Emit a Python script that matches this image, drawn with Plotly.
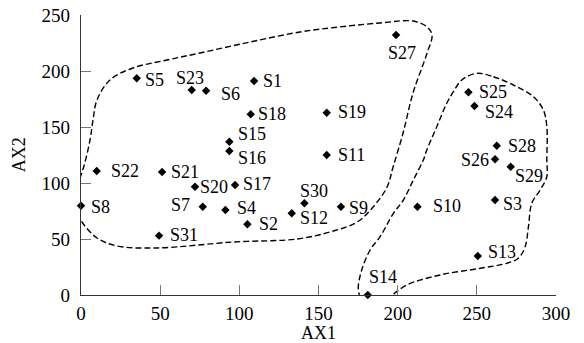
import plotly.graph_objects as go

# ---- data ----
names = ["S1", "S2", "S3", "S4", "S5", "S6", "S7", "S8", "S9", "S10",
         "S11", "S12", "S13", "S14", "S15", "S16", "S17", "S18", "S19", "S20",
         "S21", "S22", "S23", "S24", "S25", "S26", "S27", "S28", "S29", "S30", "S31"]
ax1 = [109.3, 105.1, 261.5, 91.2, 35.2, 79.0, 76.9, 0.0, 164.2, 212.5,
       155.2, 133.1, 250.6, 181.1, 93.7, 93.7, 97.3, 107.2, 155.2, 72.0,
       51.2, 9.9, 69.9, 248.5, 244.7, 261.5, 199.0, 262.6, 271.4, 141.1, 49.3]
ax2 = [191.0, 63.1, 84.8, 75.9, 193.5, 182.4, 78.8, 79.7, 78.8, 78.8,
       125.0, 72.9, 34.8, 0.0, 136.9, 128.6, 98.2, 161.3, 162.8, 96.7,
       109.8, 110.7, 183.0, 168.8, 181.0, 121.2, 232.1, 133.3, 114.5, 81.9, 53.0]

x_ticks = [0, 50, 100, 150, 200, 250, 300]
y_ticks = [0, 50, 100, 150, 200, 250]

# cluster outlines (data units)
cluster1_x = [-5.2, -2.7, 1.5, 5.7, 7.6, 10.1, 18.3, 32.8, 54.3, 75.2, 106.8, 138.3, 157.3,
              188.9, 209.7, 218.6, 221.7, 218.6, 209.7, 203.4, 197.1, 193.3, 184.5, 174.4,
              157.3, 136.5, 96.0, 48.0, 22.7, 10.1, 0.6, -5.2]
cluster1_y = [82.1, 96.4, 113.4, 138.4, 156.3, 174.1, 192.0, 202.7, 209.8, 216.1, 225.9, 234.8, 238.4,
              242.9, 244.6, 239.3, 232.1, 216.1, 180.4, 144.6, 114.3, 96.4, 78.6, 65.2,
              56.3, 50.0, 47.3, 42.0, 43.8, 50.9, 65.2, 82.1]
cluster2_x = [250.0, 260.5, 273.1, 285.7, 292.0, 294.2, 294.2, 294.2, 290.0, 284.7, 282.6, 280.5,
              276.2, 268.9, 252.0, 226.8, 205.7, 195.2, 186.8, 178.3, 175.2, 177.3, 182.6, 188.9,
              197.3, 203.6, 209.9, 216.2, 218.4, 224.7, 231.0, 235.2, 240.5, 250.0]
cluster2_y = [197.9, 194.9, 187.5, 177.1, 165.2, 150.3, 120.5, 105.6, 93.8, 81.9, 61.0, 43.1,
              32.8, 28.3, 23.8, 17.9, 8.9, -1.5, -8.9, -6.0, 4.5, 22.3, 40.2, 52.1,
              72.9, 84.8, 102.7, 120.5, 129.5, 150.3, 171.2, 181.5, 192.0, 197.9]

# ---- label offsets (style, pixels: dx right, dy down) ----
label_offsets = {
    "S1": (18.7, 0), "S2": (21.4, 0), "S3": (17.3, 4.3), "S4": (21.4, -1.7), "S5": (18, 2),
    "S6": (24.5, 3.5), "S7": (-22.7, -1.7), "S8": (19.7, 1), "S9": (17.3, 1), "S10": (29.4, -1),
    "S11": (24.8, 0), "S12": (22.5, 5), "S13": (24, -4.3), "S14": (15.3, -17.7), "S15": (23, -8),
    "S16": (23, 7), "S17": (22, -1), "S18": (21.5, 0), "S19": (25.6, -1), "S20": (19.3, 0.5),
    "S21": (23, 0), "S22": (28, 0), "S23": (-2, -12.5), "S24": (24.7, 6.3), "S25": (24.2, -0.6),
    "S26": (-20, 0.7), "S27": (5.7, 18.3), "S28": (25, 0), "S29": (18, 9.4), "S30": (9.4, -12.6),
    "S31": (24.5, -0.7),
}

FONT = "Liberation Serif"

fig = go.Figure()
for cx, cy in [(cluster1_x, cluster1_y), (cluster2_x, cluster2_y)]:
    fig.add_trace(go.Scatter(
        x=cx, y=cy, mode="lines",
        line=dict(color="black", width=1.4, dash="6px,3px", shape="spline", smoothing=1.0),
        hoverinfo="skip", showlegend=False, cliponaxis=False,
    ))

fig.add_trace(go.Scatter(
    x=ax1, y=ax2, mode="markers", text=names,
    marker=dict(symbol="diamond", size=6.5, color="black", line=dict(width=0)),
    showlegend=False, cliponaxis=False,
))

for n, xv, yv in zip(names, ax1, ax2):
    dx, dy = label_offsets[n]
    fig.add_annotation(x=xv, y=yv, xref="x", yref="y", text=n, showarrow=False,
                       xshift=dx, yshift=-dy, xanchor="center", yanchor="middle",
                       font=dict(family=FONT, size=18, color="black"))

# axis titles (paper coordinates)
fig.add_annotation(x=0.5, y=-0.136, xref="paper", yref="paper", text="AX1", showarrow=False,
                   xanchor="center", yanchor="middle", font=dict(family=FONT, size=18, color="black"))
fig.add_annotation(x=-0.13, y=0.5, xref="paper", yref="paper", text="AX2", showarrow=False,
                   textangle=-90, xanchor="center", yanchor="middle",
                   font=dict(family=FONT, size=18, color="black"))

fig.update_layout(
    width=584, height=343,
    margin=dict(l=81, r=28, t=15, b=48),
    paper_bgcolor="white", plot_bgcolor="white",
    font=dict(family=FONT, size=18, color="black"),
    showlegend=False,
)
fig.update_xaxes(
    range=[0, 300], tickvals=x_ticks, showgrid=False, zeroline=False, automargin=False,
    showline=True, linecolor="#333333", linewidth=1.3,
    ticks="inside", ticklen=10, tickcolor="#777777", tickwidth=1.3,
    tickfont=dict(family=FONT, size=19, color="black"), ticklabelstandoff=1,
    ticklabeloverflow="allow",
)
fig.update_yaxes(
    range=[0, 250], tickvals=y_ticks, showgrid=False, zeroline=False, automargin=False,
    showline=True, linecolor="#333333", linewidth=1.3,
    ticks="inside", ticklen=10, tickcolor="#777777", tickwidth=1.3,
    tickfont=dict(family=FONT, size=19, color="black"), ticklabelstandoff=6,
    ticklabeloverflow="allow",
)

fig.write_html("out.html", config={"displayModeBar": False},
               post_script="document.body.style.margin='0';")
